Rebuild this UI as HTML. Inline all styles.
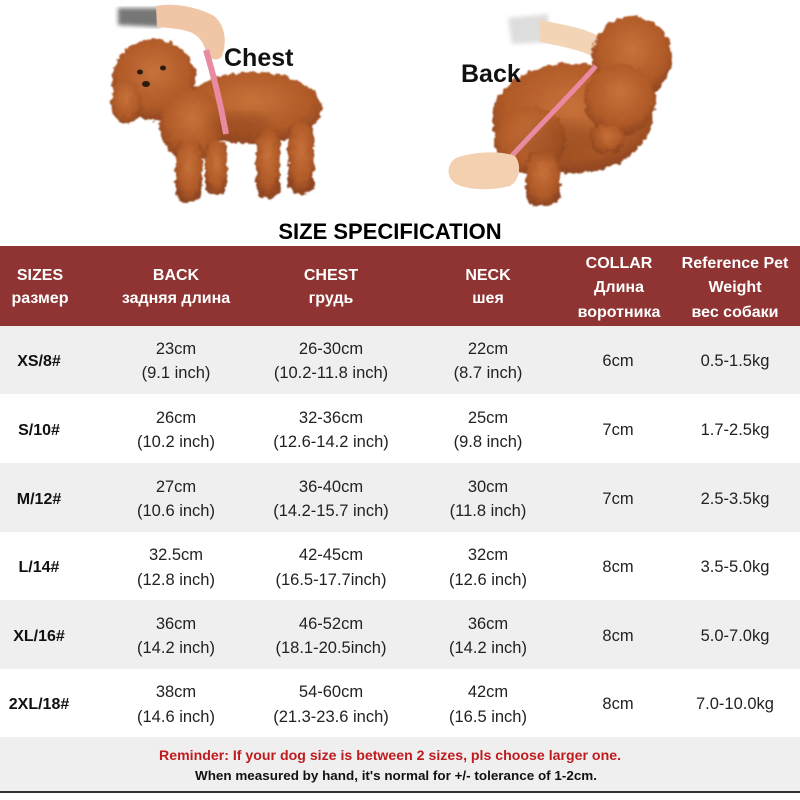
<!DOCTYPE html>
<html><head><meta charset="utf-8"><style>
html,body{margin:0;padding:0;background:#fff;}
svg{display:block;}
text{font-family:"Liberation Sans",sans-serif;}
</style></head><body>
<svg width="800" height="800" viewBox="0 0 800 800" xmlns="http://www.w3.org/2000/svg">
<defs>
<filter id="fz" x="-20%" y="-20%" width="140%" height="140%">
<feTurbulence type="fractalNoise" baseFrequency="0.18" numOctaves="2" seed="3" result="n"/>
<feDisplacementMap in="SourceGraphic" in2="n" scale="7" xChannelSelector="R" yChannelSelector="G" result="d"/>
<feGaussianBlur in="d" stdDeviation="0.8"/>
</filter>
<filter id="bl"><feGaussianBlur stdDeviation="2"/></filter>
<filter id="sh"><feGaussianBlur stdDeviation="6"/></filter>
<radialGradient id="fur" cx="50%" cy="40%" r="60%">
<stop offset="0" stop-color="#c7713a"/><stop offset="0.7" stop-color="#b05a28"/><stop offset="1" stop-color="#8e4520"/>
</radialGradient>
</defs>
<rect width="800" height="800" fill="#fff"/>

<!-- Dog 1 -->
<g>
<path d="M118 8 L160 8 L160 27 L118 25 Z" fill="#555" filter="url(#bl)" opacity="0.8"/>
<path d="M156 6 C175 2 200 8 214 16 C224 24 228 40 222 56 C218 62 210 60 206 52 C204 44 200 36 190 32 C178 28 166 28 157 27 Z" fill="#f0c6a6"/>
<g filter="url(#fz)" fill="url(#fur)">
<ellipse cx="252" cy="108" rx="70" ry="36"/>
<ellipse cx="154" cy="80" rx="42" ry="41"/>
<ellipse cx="126" cy="102" rx="15" ry="22"/>
<ellipse cx="192" cy="125" rx="32" ry="36"/>
<rect x="176" y="140" width="26" height="62" rx="10"/>
<rect x="205" y="140" width="22" height="55" rx="10"/>
<rect x="256" y="128" width="24" height="70" rx="10"/>
<rect x="288" y="122" width="26" height="72" rx="10"/>
</g>
<ellipse cx="240" cy="125" rx="30" ry="12" fill="#7a3816" opacity="0.35" filter="url(#sh)"/>
<ellipse cx="140" cy="72" rx="3" ry="2.5" fill="#2a1a10"/>
<ellipse cx="163" cy="68" rx="3" ry="2.5" fill="#2a1a10"/>
<ellipse cx="146" cy="84" rx="4" ry="3" fill="#2a1a10"/>
<path d="M206 50 C212 70 220 100 226 134" stroke="#e88aa0" stroke-width="6" fill="none"/>
<text x="224" y="66" font-size="25" font-weight="bold" fill="#111">Chest</text>
</g>

<!-- Dog 2 -->
<g>
<path d="M508 18 L548 14 L548 42 L512 44 Z" fill="#ddd" filter="url(#bl)"/>
<path d="M540 20 C560 24 585 28 598 36 C604 44 600 56 592 56 C580 50 560 46 540 42 Z" fill="#f3d4b6"/>
<g filter="url(#fz)" fill="url(#fur)">
<ellipse cx="572" cy="118" rx="80" ry="55"/>
<ellipse cx="530" cy="140" rx="36" ry="34"/>
<ellipse cx="632" cy="58" rx="40" ry="42"/>
<ellipse cx="620" cy="100" rx="36" ry="36"/>
<rect x="526" y="150" width="34" height="56" rx="12"/>
<rect x="590" y="125" width="34" height="28" rx="12"/>
</g>
<ellipse cx="560" cy="140" rx="40" ry="18" fill="#7a3816" opacity="0.3" filter="url(#sh)"/>
<path d="M596 66 C570 95 540 125 508 160" stroke="#e88aa0" stroke-width="5" fill="none"/>
<path d="M456 158 C472 152 500 150 515 156 C522 165 520 180 510 186 C490 191 468 190 456 184 C446 178 446 164 456 158 Z" fill="#f3d0b0"/>
<text x="461" y="82" font-size="25" font-weight="bold" fill="#111">Back</text>
</g>

<!-- Title -->
<text x="390" y="239" font-size="22" font-weight="bold" fill="#000" text-anchor="middle">SIZE SPECIFICATION</text>

<!-- Header -->
<rect x="0" y="246" width="800" height="80" fill="#8f3432"/>
<g fill="#fff" font-weight="bold" font-size="16" text-anchor="middle">
<text x="40" y="280">SIZES</text><text x="40" y="303">размер</text>
<text x="176" y="280">BACK</text><text x="176" y="303">задняя длина</text>
<text x="331" y="280">CHEST</text><text x="331" y="303">грудь</text>
<text x="488" y="280">NECK</text><text x="488" y="303">шея</text>
<text x="619" y="268">COLLAR</text><text x="619" y="292">Длина</text><text x="619" y="317">воротника</text>
<text x="735" y="268">Reference Pet</text><text x="735" y="292">Weight</text><text x="735" y="317">вес собаки</text>
</g>

<!-- Rows -->
<rect x="0" y="326" width="800" height="68" fill="#efefef"/>
<rect x="0" y="394" width="800" height="69" fill="#fff"/>
<rect x="0" y="463" width="800" height="69" fill="#efefef"/>
<rect x="0" y="532" width="800" height="68" fill="#fff"/>
<rect x="0" y="600" width="800" height="69" fill="#efefef"/>
<rect x="0" y="669" width="800" height="68" fill="#fff"/>
<rect x="0" y="737" width="800" height="54" fill="#efefef"/>
<rect x="0" y="791" width="800" height="2" fill="#333"/>

<g font-size="16" font-weight="bold" fill="#111" text-anchor="middle">
<text x="39" y="366">XS/8#</text>
<text x="39" y="435">S/10#</text>
<text x="39" y="504">M/12#</text>
<text x="39" y="572">L/14#</text>
<text x="39" y="641">XL/16#</text>
<text x="39" y="709">2XL/18#</text>
</g>

<g font-size="16.5" fill="#222" text-anchor="middle">
<text x="176" y="354">23cm</text><text x="176" y="378">(9.1 inch)</text>
<text x="331" y="354">26-30cm</text><text x="331" y="378">(10.2-11.8 inch)</text>
<text x="488" y="354">22cm</text><text x="488" y="378">(8.7 inch)</text>
<text x="618" y="366">6cm</text><text x="735" y="366">0.5-1.5kg</text>
<text x="176" y="423">26cm</text><text x="176" y="447">(10.2 inch)</text>
<text x="331" y="423">32-36cm</text><text x="331" y="447">(12.6-14.2 inch)</text>
<text x="488" y="423">25cm</text><text x="488" y="447">(9.8 inch)</text>
<text x="618" y="435">7cm</text><text x="735" y="435">1.7-2.5kg</text>
<text x="176" y="492">27cm</text><text x="176" y="516">(10.6 inch)</text>
<text x="331" y="492">36-40cm</text><text x="331" y="516">(14.2-15.7 inch)</text>
<text x="488" y="492">30cm</text><text x="488" y="516">(11.8 inch)</text>
<text x="618" y="504">7cm</text><text x="735" y="504">2.5-3.5kg</text>
<text x="176" y="560">32.5cm</text><text x="176" y="585">(12.8 inch)</text>
<text x="331" y="560">42-45cm</text><text x="331" y="585">(16.5-17.7inch)</text>
<text x="488" y="560">32cm</text><text x="488" y="585">(12.6 inch)</text>
<text x="618" y="572">8cm</text><text x="735" y="572">3.5-5.0kg</text>
<text x="176" y="629">36cm</text><text x="176" y="653">(14.2 inch)</text>
<text x="331" y="629">46-52cm</text><text x="331" y="653">(18.1-20.5inch)</text>
<text x="488" y="629">36cm</text><text x="488" y="653">(14.2 inch)</text>
<text x="618" y="641">8cm</text><text x="735" y="641">5.0-7.0kg</text>
<text x="176" y="697">38cm</text><text x="176" y="722">(14.6 inch)</text>
<text x="331" y="697">54-60cm</text><text x="331" y="722">(21.3-23.6 inch)</text>
<text x="488" y="697">42cm</text><text x="488" y="722">(16.5 inch)</text>
<text x="618" y="709">8cm</text><text x="735" y="709">7.0-10.0kg</text>
</g>

<!-- Footer -->
<text x="159" y="760" font-size="14" font-weight="bold" fill="#bf1b1f" textLength="462" lengthAdjust="spacingAndGlyphs">Reminder: If your dog size is between 2 sizes, pls choose larger one.</text>
<text x="195" y="780" font-size="13" font-weight="bold" fill="#111" textLength="402" lengthAdjust="spacingAndGlyphs">When measured by hand, it's normal for +/- tolerance of 1-2cm.</text>
</svg>
</body></html>
